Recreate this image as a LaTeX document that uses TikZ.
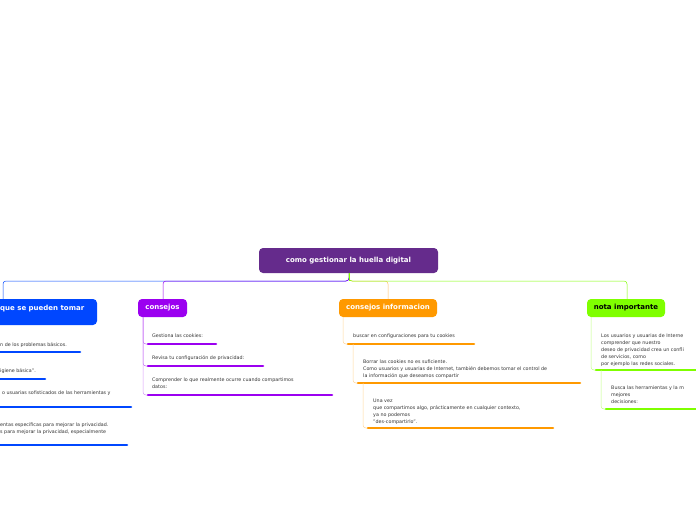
\documentclass[tikz,border=0pt]{standalone}
\usepackage{fontspec}
\setmainfont{DejaVu Sans}
\begin{document}
\begin{tikzpicture}[x=1pt,y=-1pt,
  title/.style={rounded corners=3pt,text=white,font=\bfseries\fontsize{7}{8}\selectfont,inner sep=0pt,anchor=center},
  leaf/.style={anchor=north west,inner sep=0pt,align=left,font=\fontsize{4.8}{7}\selectfont,text=black!80},
  ul/.style={line width=2.6pt,line cap=round},
  conn/.style={line width=0.5pt,rounded corners=3pt}]
\useasboundingbox (0,0) rectangle (696,520);
\clip (0,0) rectangle (696,520);
\definecolor{cR}{HTML}{652B8C}
\definecolor{cB}{HTML}{0047FF}
\definecolor{cP}{HTML}{9B00F0}
\definecolor{cO}{HTML}{FF9900}
\definecolor{cG}{HTML}{7FFF00}
% root
\fill[cR,rounded corners=4pt] (259,248) rectangle (438,273);
\node[title] (root) at (348.5,260.5) {como gestionar la huella digital};
\coordinate (rb) at (349,273);
% branches
\draw[conn,cB] (rb) |- (3,281) -- (3,299);
\draw[conn,cP] (rb) |- (163,281) -- (163,299);
\draw[conn,cO!60] (rb) |- (388,281) -- (388,299);
\draw[conn,cG] (rb) |- (627,281) -- (627,299);
\draw[cG,line width=0.6pt] (349,273) -- (349,281);
% boxes
\fill[cB,rounded corners=4pt] (-20,299) rectangle (97,325);
\node[title,anchor=west] (b1) at (0,309) {que se pueden tomar};
\fill[cP,rounded corners=4pt] (138,299) rectangle (187,317);
\node[title] (b2) at (162.5,308) {consejos};
\fill[cO,rounded corners=4pt] (339,299) rectangle (437,317);
\node[title] (b3) at (388,308) {consejos informacion};
\fill[cG,rounded corners=4pt] (587,299) rectangle (665,317);
\node[title,text=black] (b4) at (626,308) {nota importante};
% blue leaves
\node[leaf] (l1) at (0,342) {n de los problemas básicos.};
\draw[ul,cB] (-5,352) -- (80,352);
\node[leaf] (l2) at (0,368) {igiene básica".};
\draw[ul,cB] (-5,379) -- (45,379);
\node[leaf] (l3) at (2,391) {o usuarias sofisticados de las herramientas y};
\draw[ul,cB] (-5,407) -- (131,407);
\node[leaf] (l4) at (0,422) {entas específicas para mejorar la privacidad.\\s para mejorar la privacidad, especialmente};
\draw[ul,cB] (-5,445) -- (127,445);
% purple leaves
\draw[conn,cP!60] (143,317) |- (148,344);
\draw[conn,cP!60] (143,317) |- (148,366);
\draw[conn,cP!40] (143,317) |- (148,395);
\node[leaf] (p1) at (152,334) {Gestiona las cookies:};
\draw[ul,cP] (148,344) -- (216,344);
\node[leaf] (p2) at (152,355) {Revisa tu configuración de privacidad:};
\draw[ul,cP] (148,366) -- (263,366);
\node[leaf] (p3) at (152,378) {Comprender lo que realmente ocurre cuando compartimos\\datos:};
\draw[ul,cP] (148,395) -- (332,395);
% orange leaves
\draw[conn,cO!40] (343,317) |- (348,344);
\node[leaf] (o1) at (353,334) {buscar en configuraciones para tu cookies};
\draw[ul,cO] (348,344) -- (474,344);
\draw[conn,cO!40] (353,344) |- (358,383);
\node[leaf] (o2) at (363,360) {Borrar las cookies no es suficiente.\\Como usuarios y usuarias de Internet, también debemos tomar el control de\\la información que deseamos compartir};
\draw[ul,cO] (358,383) -- (580,383);
\draw[conn,cO!40] (363,383) |- (368,428);
\node[leaf] (o3) at (373,399) {Una vez\\que compartimos algo, prácticamente en cualquier contexto,\\ya no podemos\\"des-compartirlo".};
\draw[ul,cO] (368,428) -- (553,428);
% green leaves
\draw[conn,cG!50] (591,317) |- (596,370);
\node[leaf] (g1) at (601,334) {Los usuarios y usuarias de Interne\\comprender que nuestro\\deseo de privacidad crea un confli\\de servicios, como\\por ejemplo las redes sociales.};
\draw[ul,cG] (596,370) -- (700,370);
\draw[conn,cG!50] (601,370) |- (606,409);
\node[leaf] (g2) at (611,386) {Busca las herramientas y la m\\mejores\\decisiones:};
\draw[ul,cG] (606,409) -- (700,409);
\end{tikzpicture}
\end{document}
